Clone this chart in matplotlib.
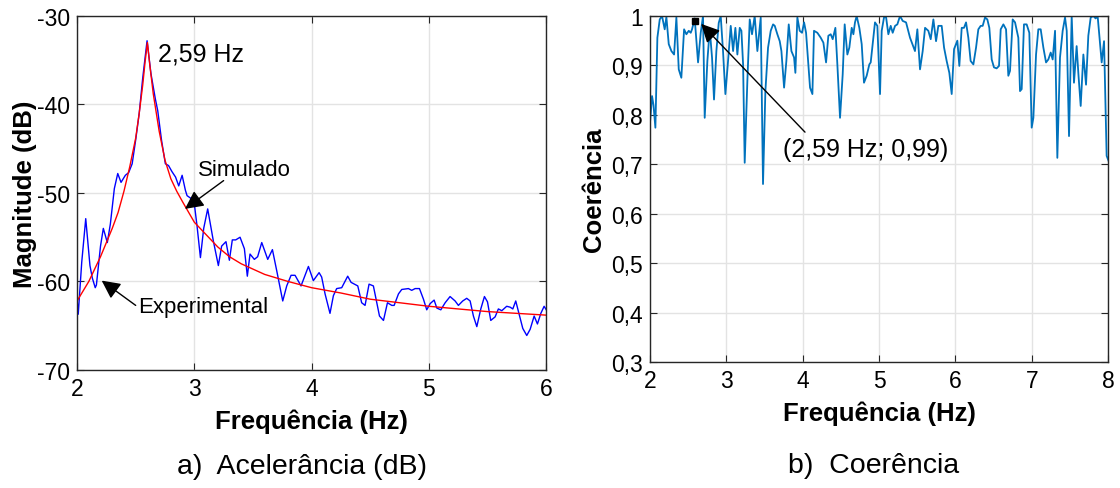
import matplotlib
matplotlib.use('Agg')
import matplotlib.pyplot as plt

plt.rcParams['font.family'] = ['Liberation Sans', 'DejaVu Sans']

# a) acceleration spectrum, experimental trace (Hz, dB)
exp_freq = [2.0, 2.01, 2.04, 2.074, 2.11, 2.13, 2.155, 2.165, 2.2, 2.224, 2.258, 2.284,
            2.318, 2.347, 2.375, 2.412, 2.44, 2.47, 2.5, 2.53, 2.56, 2.597, 2.63, 2.668,
            2.688, 2.72, 2.753, 2.78, 2.81, 2.84, 2.867, 2.896, 2.924, 2.938, 2.97, 2.995,
            3.023, 3.052, 3.08, 3.114, 3.162, 3.205, 3.233, 3.27, 3.299, 3.324, 3.353, 3.39,
            3.427, 3.452, 3.475, 3.512, 3.54, 3.575, 3.626, 3.666, 3.703, 3.754, 3.788, 3.825,
            3.859, 3.91, 3.973, 4.015, 4.064, 4.086, 4.115, 4.157, 4.186, 4.214, 4.257, 4.308,
            4.337, 4.394, 4.427, 4.456, 4.49, 4.527, 4.55, 4.579, 4.613, 4.647, 4.684, 4.704,
            4.741, 4.769, 4.826, 4.854, 4.883, 4.92, 4.954, 4.982, 5.011, 5.045, 5.068, 5.102,
            5.139, 5.181, 5.224, 5.252, 5.289, 5.323, 5.352, 5.38, 5.409, 5.443, 5.474, 5.5,
            5.528, 5.565, 5.593, 5.622, 5.664, 5.693, 5.716, 5.741, 5.77, 5.801, 5.835, 5.864,
            5.898, 5.926, 5.955, 5.983, 6.006]
exp_db = [-62.0, -63.7, -57.8, -52.9, -58.2, -59.6, -60.7, -60.4, -56.0, -54.0, -55.6, -53.5,
          -49.5, -47.8, -48.8, -48.0, -47.7, -46.7, -44.0, -41.0, -37.0, -32.8, -36.5, -39.4,
          -40.7, -44.0, -46.7, -46.9, -47.6, -48.2, -49.2, -48.0, -49.7, -50.3, -50.6, -50.7,
          -53.7, -57.3, -54.0, -51.8, -55.4, -58.2, -56.0, -55.5, -57.6, -55.3, -55.3, -55.0,
          -56.3, -59.4, -56.9, -57.5, -57.2, -55.6, -57.5, -56.4, -58.8, -62.2, -60.5, -59.3,
          -59.3, -60.5, -58.3, -59.9, -59.0, -59.5, -61.4, -63.6, -61.6, -60.8, -60.7, -59.4,
          -60.1, -60.5, -62.4, -62.7, -60.3, -60.5, -62.0, -63.9, -64.4, -62.4, -62.7, -62.7,
          -61.4, -60.9, -60.8, -61.0, -60.8, -60.8, -62.0, -63.2, -62.5, -62.1, -63.0, -63.2,
          -62.4, -61.7, -62.2, -62.7, -62.2, -61.9, -62.2, -63.9, -65.1, -63.1, -61.7, -62.3,
          -64.4, -64.0, -63.1, -63.3, -62.8, -62.9, -63.1, -62.2, -63.7, -65.3, -66.1, -65.4,
          -63.9, -64.8, -63.6, -62.8, -63.3]

# a) simulated response (Hz, dB)
sim_freq = [2.0, 2.1, 2.2, 2.3, 2.35, 2.4, 2.45, 2.5, 2.53, 2.56, 2.58, 2.6, 2.62, 2.65,
            2.7, 2.75, 2.8, 2.85, 2.9, 3.0, 3.1, 3.2, 3.3, 3.4, 3.5, 3.6, 3.7, 3.8, 4.0,
            4.25, 4.5, 4.75, 5.0, 5.25, 5.5, 5.75, 6.0]
sim_db = [-62.2, -60.0, -57.2, -54.0, -52.2, -49.8, -47.0, -43.8, -41.0, -37.8, -35.2, -33.0,
          -35.5, -38.8, -43.0, -46.3, -48.4, -49.8, -51.0, -53.3, -54.7, -56.1, -57.2, -58.0,
          -58.6, -59.2, -59.6, -60.0, -60.7, -61.3, -62.0, -62.4, -62.8, -63.1, -63.4, -63.6,
          -63.8]

# b) coherence (Hz, -)
coh_freq = [1.996, 2.026, 2.045, 2.07, 2.096, 2.127, 2.157, 2.192, 2.214, 2.245, 2.28, 2.315,
            2.345, 2.376, 2.41, 2.446, 2.476, 2.507, 2.533, 2.55, 2.585, 2.629, 2.664, 2.694,
            2.716, 2.751, 2.782, 2.812, 2.838, 2.869, 2.9, 2.926, 2.956, 2.987, 3.022, 3.057,
            3.088, 3.118, 3.144, 3.175, 3.197, 3.219, 3.24, 3.275, 3.306, 3.336, 3.371, 3.406,
            3.45, 3.48, 3.511, 3.546, 3.581, 3.612, 3.634, 3.668, 3.699, 3.721, 3.756, 3.786,
            3.817, 3.852, 3.887, 3.904, 3.93, 3.961, 3.991, 4.018, 4.044, 4.074, 4.096, 4.127,
            4.148, 4.192, 4.236, 4.271, 4.306, 4.336, 4.367, 4.393, 4.428, 4.454, 4.489, 4.524,
            4.55, 4.585, 4.611, 4.642, 4.664, 4.685, 4.707, 4.742, 4.773, 4.803, 4.838, 4.873,
            4.891, 4.926, 4.947, 4.978, 5.013, 5.035, 5.065, 5.092, 5.122, 5.153, 5.179, 5.21,
            5.24, 5.275, 5.31, 5.354, 5.406, 5.471, 5.502, 5.537, 5.572, 5.603, 5.646, 5.677,
            5.712, 5.747, 5.777, 5.821, 5.852, 5.886, 5.921, 5.952, 5.983, 6.026, 6.052, 6.083,
            6.113, 6.14, 6.17, 6.2, 6.236, 6.271, 6.301, 6.332, 6.358, 6.389, 6.419, 6.445,
            6.476, 6.506, 6.541, 6.572, 6.594, 6.629, 6.664, 6.694, 6.716, 6.751, 6.782, 6.825,
            6.847, 6.869, 6.899, 6.934, 6.969, 7.0, 7.022, 7.057, 7.087, 7.118, 7.153, 7.188,
            7.218, 7.249, 7.275, 7.306, 7.336, 7.371, 7.406, 7.437, 7.459, 7.489, 7.524, 7.554,
            7.589, 7.611, 7.642, 7.677, 7.712, 7.742, 7.773, 7.808, 7.838, 7.864, 7.895, 7.917,
            7.948, 7.982, 8.017]
coh = [0.777, 0.838, 0.82, 0.774, 0.956, 0.993, 1.0, 0.973, 0.998, 0.943, 0.929, 0.922,
       0.997, 0.892, 0.875, 0.973, 0.963, 0.97, 0.966, 0.973, 0.995, 0.906, 0.966, 1.0,
       0.794, 0.909, 0.973, 0.916, 0.831, 0.929, 0.986, 1.0, 0.929, 0.842, 0.909, 0.98,
       0.929, 0.976, 0.922, 0.976, 0.97, 0.902, 0.703, 0.869, 0.993, 0.963, 1.0, 0.929,
       0.997, 0.66, 0.848, 0.936, 0.97, 0.983, 0.98, 0.963, 0.949, 0.929, 0.855, 0.909,
       0.983, 0.929, 0.916, 0.885, 0.997, 0.97, 0.966, 0.987, 0.966, 0.902, 0.855, 0.842,
       0.97, 0.966, 0.956, 0.946, 0.906, 0.96, 0.963, 0.953, 0.976, 0.902, 0.794, 0.882,
       0.983, 0.922, 0.936, 0.976, 0.963, 0.987, 1.0, 0.976, 0.943, 0.865, 0.879, 0.902,
       0.906, 0.956, 0.987, 0.98, 0.842, 0.97, 0.997, 0.998, 0.963, 0.98, 0.966, 0.98,
       0.983, 1.0, 0.99, 0.987, 0.956, 0.929, 0.973, 0.892, 0.929, 0.976, 0.97, 0.953,
       0.993, 0.949, 0.98, 0.98, 0.936, 0.909, 0.885, 0.842, 0.933, 0.95, 0.899, 0.976,
       0.976, 0.987, 0.956, 0.909, 0.902, 0.936, 0.973, 0.98, 0.98, 0.997, 0.993, 0.976,
       0.912, 0.896, 0.894, 0.899, 0.973, 0.983, 0.973, 0.879, 0.889, 0.993, 0.987, 0.956,
       0.848, 0.852, 0.983, 0.983, 0.966, 0.774, 0.794, 0.922, 0.973, 0.973, 0.936, 0.906,
       0.912, 0.926, 0.912, 0.97, 0.713, 0.916, 0.97, 0.997, 0.97, 0.757, 1.0, 0.865,
       0.939, 0.885, 0.818, 0.922, 0.861, 0.96, 0.997, 1.0, 0.995, 1.0, 0.946, 0.906,
       0.949, 0.717, 0.703]

peak_freq = 2.59
peak_coh = 0.99

db_ticks = [-70, -60, -50, -40, -30]
db_labels = ['-70', '-60', '-50', '-40', '-30']
coh_ticks = [0.3, 0.4, 0.5, 0.6, 0.7, 0.8, 0.9, 1.0]
coh_labels = ['0,3', '0,4', '0,5', '0,6', '0,7', '0,8', '0,9', '1']

AX_COLOR = '#262626'
GRID_COLOR = '#e3e3e3'
TICK_SIZE = 16.5
LABEL_SIZE = 18.5


def style_axes(ax):
    ax.grid(True, color=GRID_COLOR, linewidth=1)
    ax.set_axisbelow(True)
    ax.tick_params(direction='in', top=True, right=True, length=5, pad=5,
                   labelsize=TICK_SIZE, colors=AX_COLOR, labelcolor='black')
    for sp in ax.spines.values():
        sp.set_color(AX_COLOR)
        sp.set_linewidth(1)


fig = plt.figure(figsize=(11.2, 4.89), dpi=100)

# ---- a) acceleration ----
ax1 = fig.add_axes([0.0688, 0.2413, 0.4188, 0.724])
ax1.plot(exp_freq, exp_db, color='#0000ff', linewidth=1)
ax1.plot(sim_freq, sim_db, color='#ff0000', linewidth=1)
ax1.set_xlim(2, 6)
ax1.set_ylim(-70, -30)
ax1.set_xticks([2, 3, 4, 5, 6])
ax1.set_yticks(db_ticks)
ax1.set_yticklabels(db_labels)
style_axes(ax1)
ax1.set_xlabel('Frequência (Hz)', fontsize=LABEL_SIZE, fontweight='bold', labelpad=6)
ax1.set_ylabel('Magnitude (dB)', fontsize=LABEL_SIZE, fontweight='bold', labelpad=0)

arrow = dict(arrowstyle='-|>', mutation_scale=28, color='black', lw=1, shrinkA=0, shrinkB=0)
ax1.text(2.69, -34.2, '2,59 Hz', fontsize=18, va='center', ha='left')
ax1.text(3.03, -47.3, 'Simulado', fontsize=16, va='center', ha='left')
ax1.annotate('', xy=(2.92, -51.8), xytext=(3.25, -48.6), arrowprops=arrow)
ax1.text(2.52, -62.8, 'Experimental', fontsize=16, va='center', ha='left')
ax1.annotate('', xy=(2.21, -59.9), xytext=(2.5, -62.7), arrowprops=arrow)

# ---- b) coherence ----
ax2 = fig.add_axes([0.5804, 0.2577, 0.4089, 0.7076])
ax2.plot(coh_freq, coh, color='#0072bd', linewidth=1.3)
ax2.plot([peak_freq], [peak_coh], marker='s', color='black', markersize=4)
ax2.set_xlim(2, 8)
ax2.set_ylim(0.3, 1.0)
ax2.set_xticks([2, 3, 4, 5, 6, 7, 8])
ax2.set_yticks(coh_ticks)
ax2.set_yticklabels(coh_labels)
style_axes(ax2)
ax2.set_xlabel('Frequência (Hz)', fontsize=LABEL_SIZE, fontweight='bold', labelpad=6)
ax2.set_ylabel('Coerência', fontsize=LABEL_SIZE, fontweight='bold', labelpad=4)
ax2.text(3.74, 0.731, '(2,59 Hz; 0,99)', fontsize=18, va='center', ha='left')
ax2.annotate('', xy=(2.67, 0.984), xytext=(4.03, 0.765), arrowprops=arrow)

fig.text(0.2696, 0.045, 'a)  Acelerância (dB)', fontsize=20.5, ha='center', va='center')
fig.text(0.7804, 0.047, 'b)  Coerência', fontsize=20.5, ha='center', va='center')

fig.savefig('out.png', dpi=100)
